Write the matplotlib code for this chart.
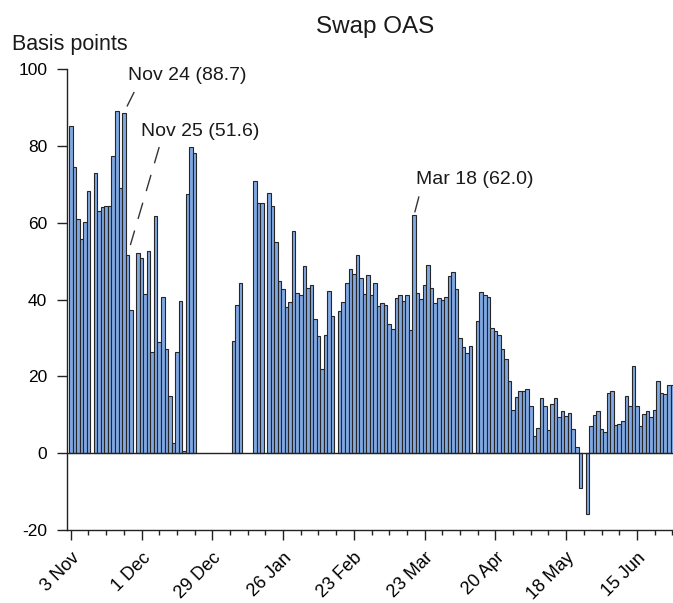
import numpy as np
import matplotlib.pyplot as plt
from matplotlib.ticker import MultipleLocator

plt.rcParams['font.family'] = ['Liberation Sans', 'DejaVu Sans']
plt.rcParams['axes.unicode_minus'] = False

nan = np.nan

# Swap OAS, basis points, one value per business day from 3 Nov 2008
# (nan = holiday / no observation)
oas_nov_dec = [85.2, 74.6, 61.0, 55.9, 60.1, 68.3, nan, 73.0, 63.2, 64.2,
               64.5, 64.5, 77.4, 89.1, 69.1, 88.7, 51.6, 37.4, nan, 52.2,
               50.9, 41.4, 52.6, 26.3, 61.7, 29.0, 40.6, 27.2, 15.0, 2.7,
               26.3, 39.7, 0.7, 67.4, 79.7, 78.1, nan, nan, nan, nan]
oas_jan_feb = [nan, nan, nan, nan, nan, nan, 29.3, 38.7, 44.3, nan,
               nan, nan, 70.9, 65.2, 65.2, nan, 67.7, 64.4, 55.0, 44.8,
               42.8, 38.1, 39.5, 58.0, 41.7, 41.1, 48.7, 43.1, 43.8, 35.0,
               30.5, 22.0, 30.9, 42.3, 35.7, nan, 37.0, 39.3, 44.4, 48.1]
oas_mar_apr = [46.8, 51.7, 45.7, 41.4, 46.5, 41.3, 44.3, 38.3, 39.2, 38.7,
               33.6, 32.3, 40.5, 41.1, 39.6, 41.1, 32.0, 62.0, 41.7, 40.1,
               43.7, 49.0, 42.9, 39.2, 40.5, 40.0, 40.7, 46.1, 47.1, 42.8,
               30.0, 27.6, 26.1, 27.8, nan, 34.4, 42.0, 41.2, 40.6, 32.7]
oas_may_jun = [31.7, 30.8, 27.1, 24.6, 18.9, 11.3, 14.6, 16.1, 16.3, 16.6,
               12.2, 4.5, 6.5, 14.4, 12.2, 6.0, 12.7, 14.4, 9.4, 11.1,
               9.6, 10.5, 6.3, 1.6, -9.0, nan, -15.8, 7.2, 10.0, 10.9,
               6.3, 5.5, 15.7, 16.1, 7.4, 7.7, 8.5, 14.8, 12.4, 22.7,
               12.2, 7.0, 10.3, 10.9, 9.4, 11.3, 18.8, 15.7, 15.3, 17.8,
               17.8]

oas = np.array(oas_nov_dec + oas_jan_feb + oas_mar_apr + oas_may_jun)
days = np.arange(len(oas))

tick_labels = ['3 Nov', '1 Dec', '29 Dec', '26 Jan', '23 Feb',
               '23 Mar', '20 Apr', '18 May', '15 Jun']

# label, business-day index
notes = [('Nov 24 (88.7)', 15), ('Nov 25 (51.6)', 16), ('Mar 18 (62.0)', 97)]

fig = plt.figure(figsize=(6.73, 6.03), dpi=100)
ax = fig.add_axes([0.0991, 0.1211, 0.9009, 0.7640])

ok = ~np.isnan(oas)
ax.bar(days[ok], oas[ok], width=1.0, color='#80a8e2', edgecolor='#262626',
       linewidth=0.8)
ax.axhline(0, color='#222222', lw=1.0, zorder=3)

ax.set_xlim(-1.16, 170.2)
ax.set_ylim(-20, 100)
ax.set_yticks(np.arange(-20, 101, 20))
ax.set_xticks(np.arange(0, 161, 20))
ax.set_xticklabels(tick_labels, rotation=45, ha='right', va='top',
                   rotation_mode='anchor')
ax.xaxis.set_minor_locator(MultipleLocator(5))
ax.tick_params(axis='y', which='major', labelsize=12.5, length=7,
               width=1, color='#222222', pad=7)
ax.tick_params(axis='x', which='major', labelsize=13, length=7,
               width=1, color='#222222', pad=7)
ax.tick_params(axis='x', which='minor', length=3.5, width=1, color='#222222')

for s in ['top', 'right']:
    ax.spines[s].set_visible(False)
for s in ['left', 'bottom']:
    ax.spines[s].set_linewidth(1.0)
    ax.spines[s].set_color('#222222')

# text offsets and dashed leader lines (offset points from the bar top)
text_off = {15: (3.0, 23.5), 16: (9.6, 85.6), 97: (1.4, 22.3)}
line_end = {15: (7.3, 14.6), 16: (22.8, 77.5), 97: (3.5, 13.2)}
line_gap = {15: 5.3, 16: 7.9, 97: 2.4}
for label, d in notes:
    v = oas[d]
    ax.annotate(label, xy=(d, v), xytext=text_off[d], textcoords='offset points',
                ha='left', va='baseline', fontsize=14, color='#1a1a1a')
    ax.annotate('', xy=(d, v), xytext=line_end[d], textcoords='offset points',
                arrowprops=dict(arrowstyle='-', color='#333333', lw=1.0,
                                linestyle=(0, (11.5, 9.4)),
                                shrinkA=0, shrinkB=line_gap[d]))

fig.text(375 / 673, 1 - 33 / 603, 'Swap OAS', ha='center', va='baseline',
         fontsize=17.5, color='#1a1a1a')
fig.text(12 / 673, 1 - 50 / 603, 'Basis points', ha='left', va='baseline',
         fontsize=15.5, color='#1a1a1a')

fig.savefig('out.png', dpi=100)
